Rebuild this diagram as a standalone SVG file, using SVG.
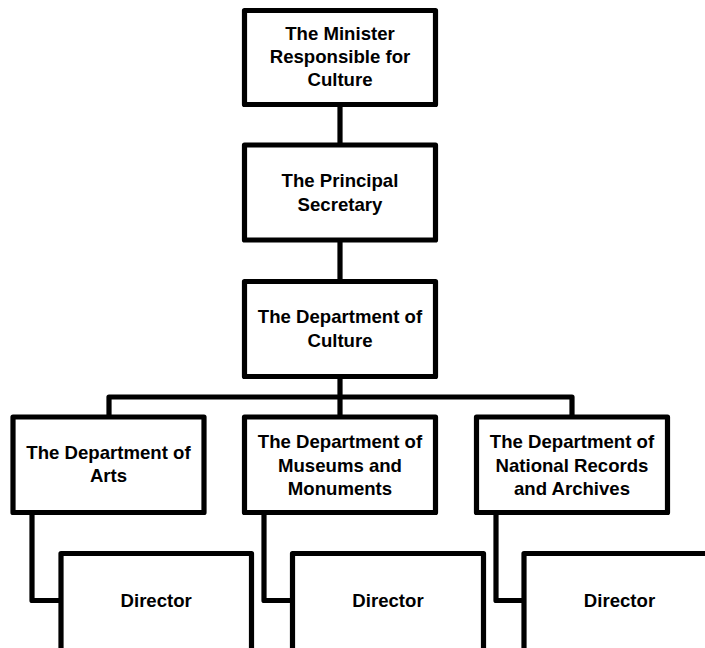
<svg xmlns="http://www.w3.org/2000/svg" width="705" height="648" viewBox="0 0 705 648">
  <style>
    .box { fill: #ffffff; stroke: #000000; stroke-width: 5.2; stroke-linejoin: round; }
    .link { fill: none; stroke: #000000; stroke-width: 5.2; stroke-linejoin: round; }
    .label { font-family: "Liberation Sans", Arial, sans-serif; font-weight: bold; font-size: 18.6px; fill: #000000; text-anchor: middle; }
  </style>
  <rect width="705" height="648" fill="#ffffff"/>

  <!-- connectors -->
  <g id="connectors">
    <path class="link" d="M340 104.5 V145"/>
    <path class="link" d="M340 240 V281.5"/>
    <path class="link" d="M340 376.5 V417"/>
    <path class="link" d="M109 417 V397 H572 V417"/>
    <path class="link" d="M32 512.5 V600.5 H61"/>
    <path class="link" d="M264 512.5 V600.5 H292.5"/>
    <path class="link" d="M496 512.5 V600.5 H524"/>
  </g>

  <g id="minister">
    <rect class="box" x="244.5" y="10.5" width="191" height="94"/>
    <text class="label" x="340" y="39.5">The Minister</text>
    <text class="label" x="340" y="62.8">Responsible for</text>
    <text class="label" x="340" y="86.1">Culture</text>
  </g>

  <g id="principal-secretary">
    <rect class="box" x="244.5" y="145" width="191" height="95"/>
    <text class="label" x="340" y="186.7">The Principal</text>
    <text class="label" x="340" y="210.5">Secretary</text>
  </g>

  <g id="dept-culture">
    <rect class="box" x="244.5" y="281.5" width="191" height="95"/>
    <text class="label" x="340" y="323.3">The Department of</text>
    <text class="label" x="340" y="346.7">Culture</text>
  </g>

  <g id="dept-arts">
    <rect class="box" x="13" y="417" width="191" height="95.5"/>
    <text class="label" x="108.5" y="459">The Department of</text>
    <text class="label" x="108.5" y="482.3">Arts</text>
  </g>

  <g id="dept-museums">
    <rect class="box" x="244.5" y="417" width="191" height="95.5"/>
    <text class="label" x="340" y="448.3">The Department of</text>
    <text class="label" x="340" y="471.6">Museums and</text>
    <text class="label" x="340" y="494.9">Monuments</text>
  </g>

  <g id="dept-records">
    <rect class="box" x="476.5" y="417" width="191" height="95.5"/>
    <text class="label" x="572" y="448.3">The Department of</text>
    <text class="label" x="572" y="471.6">National Records</text>
    <text class="label" x="572" y="494.9">and Archives</text>
  </g>

  <g id="director-arts">
    <rect class="box" x="61" y="553.5" width="190.5" height="100"/>
    <text class="label" x="156.2" y="607">Director</text>
  </g>

  <g id="director-museums">
    <rect class="box" x="292.5" y="553.5" width="191" height="100"/>
    <text class="label" x="388" y="607">Director</text>
  </g>

  <g id="director-records">
    <rect class="box" x="524" y="553.5" width="191" height="100"/>
    <text class="label" x="619.5" y="607">Director</text>
  </g>
</svg>
